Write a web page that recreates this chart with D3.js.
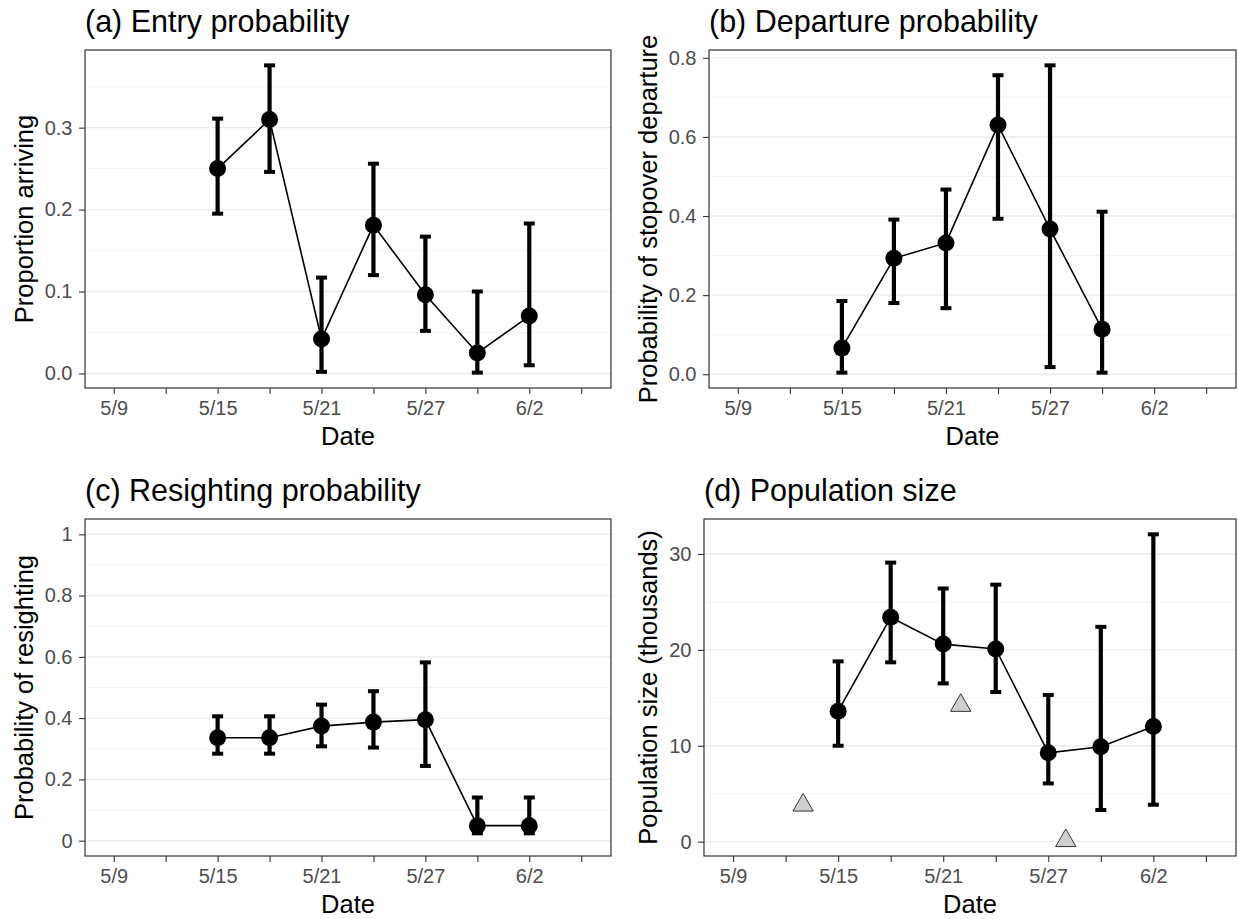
<!DOCTYPE html>
<html>
<head>
<meta charset="utf-8">
<script src="https://cdnjs.cloudflare.com/ajax/libs/d3/7.8.5/d3.min.js"></script>
<style>
  body { margin: 0; background: #fff; }
  svg { display: block; font-family: "Liberation Sans", Arial, sans-serif; }
  .tick text { fill: #4d4d4d; font-size: 20px; }
  .tick line { stroke: #333; stroke-width: 1.1; }
</style>
</head>
<body>
<svg id="chart" width="1238" height="919"></svg>
<script>
// survey occasions (3-day intervals)
var surveyDates = ['2017-05-15', '2017-05-18', '2017-05-21', '2017-05-24', '2017-05-27', '2017-05-30', '2017-06-02'];

// (a) entry probability
var entryEst = [0.250, 0.310, 0.042, 0.181, 0.096, 0.025, 0.070];
var entryLo  = [0.195, 0.246, 0.002, 0.120, 0.052, 0.001, 0.010];
var entryHi  = [0.311, 0.376, 0.117, 0.256, 0.167, 0.100, 0.183];

// (b) departure probability (no estimate for the last occasion)
var departEst = [0.066, 0.293, 0.332, 0.630, 0.367, 0.114];
var departLo  = [0.004, 0.180, 0.167, 0.393, 0.018, 0.004];
var departHi  = [0.185, 0.391, 0.467, 0.756, 0.781, 0.411];

// (c) resighting probability
var resightEst = [0.336, 0.336, 0.374, 0.387, 0.395, 0.049, 0.049];
var resightLo  = [0.284, 0.284, 0.308, 0.304, 0.244, 0.024, 0.024];
var resightHi  = [0.406, 0.406, 0.444, 0.488, 0.582, 0.141, 0.141];

// (d) population size, thousands
var popEst = [13.6, 23.4, 20.6, 20.1, 9.26, 9.9, 12.0];
var popLo  = [10.0, 18.7, 16.5, 15.6, 6.07, 3.3, 3.85];
var popHi  = [18.8, 29.1, 26.4, 26.8, 15.3, 22.4, 32.05];

// ground counts (triangles)
var countDates = ['2017-05-13', '2017-05-22', '2017-05-28'];
var countValues = [3.8, 14.2, 0.1];

// x axis ticks: labelled every 6 days, unlabelled in between
var xTickDates = ['2017-05-09', '2017-05-12', '2017-05-15', '2017-05-18', '2017-05-21',
                  '2017-05-24', '2017-05-27', '2017-05-30', '2017-06-02', '2017-06-05'];
var xTickLabels = ['5/9', '', '5/15', '', '5/21', '', '5/27', '', '6/2', ''];

var parse = d3.timeParse('%Y-%m-%d');
var DAY = 864e5;

var svg = d3.select('#chart');

function rows(dates, est, lo, hi) {
    return est.map((d, i) => ({date: parse(dates[i]), est: d, lo: lo[i], hi: hi[i]}));
}

function drawPanel(p) {
    var x = d3.scaleTime()
        .domain([new Date(+parse(xTickDates[0]) - 1.66 * DAY),
                 new Date(+parse(xTickDates[xTickDates.length - 1]) + 1.72 * DAY)])
        .range([p.left, p.right]);

    var lows = p.data.map((d) => d.lo).concat(p.extra ? p.extra.map((d) => d.value) : []);
    var highs = p.data.map((d) => d.hi);
    var ext = p.fixed || [d3.min(lows), d3.max(highs)];
    var pad = (ext[1] - ext[0]) * 0.05;
    var y = d3.scaleLinear()
        .domain([ext[0] - pad, ext[1] + pad])
        .range([p.bottom, p.top]);

    var g = svg.append('g');

    // grid lines (horizontal only)
    g.selectAll('.minor').data(p.minor).enter().append('line')
        .attr('x1', p.left).attr('x2', p.right)
        .attr('y1', (d) => y(d)).attr('y2', (d) => y(d))
        .attr('stroke', '#f3f3f3').attr('stroke-width', 0.9);
    g.selectAll('.major').data(p.yTicks).enter().append('line')
        .attr('x1', p.left).attr('x2', p.right)
        .attr('y1', (d) => y(d)).attr('y2', (d) => y(d))
        .attr('stroke', '#ebebeb').attr('stroke-width', 1.4);

    // axes
    g.append('g')
        .attr('transform', `translate(0,${p.bottom})`)
        .call(d3.axisBottom(x)
            .tickValues(xTickDates.map(parse))
            .tickFormat((d, i) => xTickLabels[i])
            .tickSizeOuter(0).tickSize(6).tickPadding(7))
        .call((a) => a.select('.domain').remove());

    g.append('g')
        .attr('transform', `translate(${p.left},0)`)
        .call(d3.axisLeft(y)
            .tickValues(p.yTicks)
            .tickFormat(p.fmt)
            .tickSizeOuter(0).tickSize(6).tickPadding(6.5))
        .call((a) => a.select('.domain').remove());

    g.append('rect')
        .attr('x', p.left).attr('y', p.top)
        .attr('width', p.right - p.left).attr('height', p.bottom - p.top)
        .attr('fill', 'none').attr('stroke', '#333').attr('stroke-width', 1.2);

    // estimates
    g.append('path')
        .datum(p.data)
        .attr('fill', 'none').attr('stroke', '#000').attr('stroke-width', 1.6)
        .attr('d', d3.line().x((d) => x(d.date)).y((d) => y(d.est)));

    var bars = g.selectAll('.err').data(p.data).enter().append('g');
    bars.append('line')
        .attr('x1', (d) => x(d.date)).attr('x2', (d) => x(d.date))
        .attr('y1', (d) => y(d.lo)).attr('y2', (d) => y(d.hi))
        .attr('stroke', '#000').attr('stroke-width', 4.2);
    bars.selectAll('.cap').data((d) => [[d.date, d.lo], [d.date, d.hi]]).enter().append('line')
        .attr('x1', (d) => x(d[0]) - 5.5).attr('x2', (d) => x(d[0]) + 5.5)
        .attr('y1', (d) => y(d[1])).attr('y2', (d) => y(d[1]))
        .attr('stroke', '#000').attr('stroke-width', 4);

    g.selectAll('.pt').data(p.data).enter().append('circle')
        .attr('cx', (d) => x(d.date)).attr('cy', (d) => y(d.est))
        .attr('r', 8.5).attr('fill', '#000');

    if (p.extra) {
        g.selectAll('.count').data(p.extra).enter().append('path')
            .attr('transform', (d) => `translate(${x(d.date)},${y(d.value)})`)
            .attr('d', d3.symbol().type(d3.symbolTriangle).size(180))
            .attr('fill', '#cfcfcf').attr('stroke', '#333').attr('stroke-width', 1);
    }

    // titles
    g.append('text')
        .attr('x', p.left).attr('y', p.top - 18)
        .attr('font-size', 30.5).attr('fill', '#000')
        .text(p.title);
    g.append('text')
        .attr('x', (p.left + p.right) / 2).attr('y', p.bottom + 57)
        .attr('text-anchor', 'middle')
        .attr('font-size', 25.5).attr('fill', '#000')
        .text('Date');
    g.append('text')
        .attr('transform', `translate(${p.yTitleX},${(p.top + p.bottom) / 2})rotate(-90)`)
        .attr('text-anchor', 'middle')
        .attr('font-size', 25.5).attr('fill', '#000')
        .text(p.yTitle);
}

var f1 = d3.format('.1f');

drawPanel({
    title: '(a) Entry probability', yTitle: 'Proportion arriving',
    left: 85, right: 611, top: 50, bottom: 388, yTitleX: 33,
    data: rows(surveyDates, entryEst, entryLo, entryHi),
    yTicks: [0, 0.1, 0.2, 0.3], minor: [0.05, 0.15, 0.25, 0.35], fmt: f1
});

drawPanel({
    title: '(b) Departure probability', yTitle: 'Probability of stopover departure',
    left: 709, right: 1236, top: 50, bottom: 388, yTitleX: 657,
    data: rows(surveyDates, departEst, departLo, departHi),
    yTicks: [0, 0.2, 0.4, 0.6, 0.8], minor: [0.1, 0.3, 0.5, 0.7], fmt: f1
});

drawPanel({
    title: '(c) Resighting probability', yTitle: 'Probability of resighting',
    left: 85, right: 611, top: 519, bottom: 856, yTitleX: 33,
    data: rows(surveyDates, resightEst, resightLo, resightHi), fixed: [0, 1],
    yTicks: [0, 0.2, 0.4, 0.6, 0.8, 1], minor: [0.1, 0.3, 0.5, 0.7, 0.9], fmt: d3.format('')
});

drawPanel({
    title: '(d) Population size', yTitle: 'Population size (thousands)',
    left: 704, right: 1236, top: 519, bottom: 856, yTitleX: 657,
    data: rows(surveyDates, popEst, popLo, popHi),
    extra: countDates.map((d, i) => ({date: parse(d), value: countValues[i]})),
    yTicks: [0, 10, 20, 30], minor: [5, 15, 25], fmt: d3.format('')
});
</script>
</body>
</html>
